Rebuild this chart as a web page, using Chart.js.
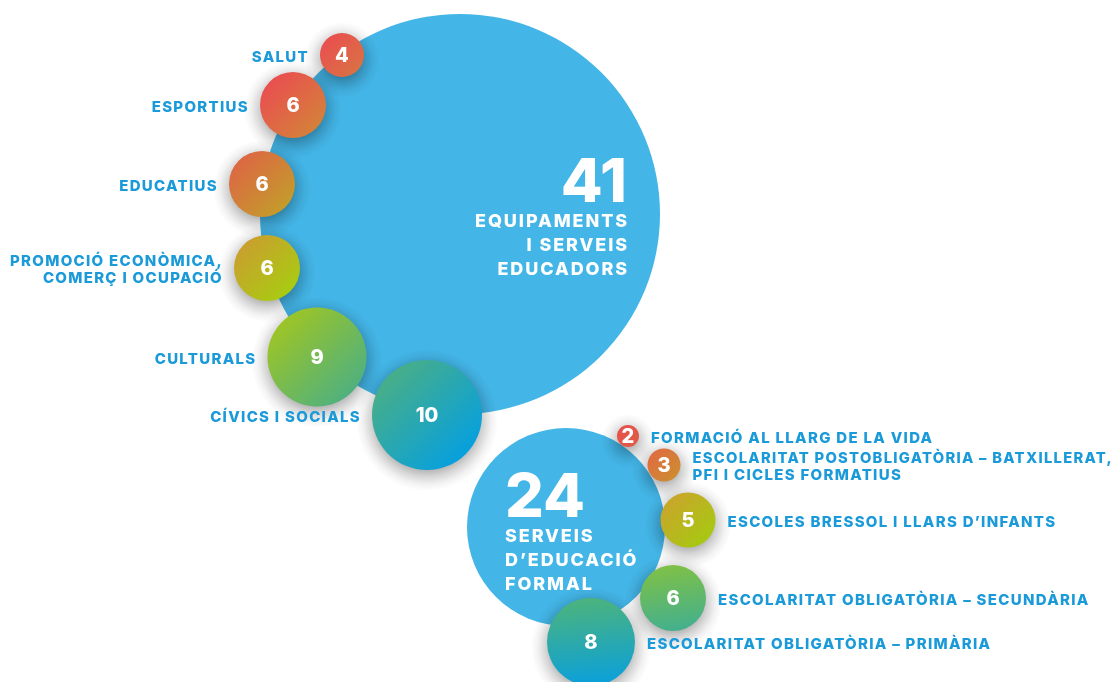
<!DOCTYPE html>
<html><head><meta charset="utf-8">
<script src="https://cdn.jsdelivr.net/npm/chart.js@4.4.1/dist/chart.umd.min.js"></script>
<style>html,body{margin:0;padding:0;background:#fff;overflow:hidden}#wrap{width:1114px;height:682px;position:relative}</style>
</head><body><div id="wrap"><canvas id="c"></canvas></div>
<script>
// ---- data ----
const groupTotals = [41, 24];
const groupTitles = [["EQUIPAMENTS", "I SERVEIS", "EDUCADORS"], ["SERVEIS", "D’EDUCACIÓ", "FORMAL"]];
const categories = [
  ["SALUT"], ["ESPORTIUS"], ["EDUCATIUS"], ["PROMOCIÓ ECONÒMICA,", "COMERÇ I OCUPACIÓ"], ["CULTURALS"], ["CÍVICS I SOCIALS"],
  ["FORMACIÓ AL LLARG DE LA VIDA"], ["ESCOLARITAT POSTOBLIGATÒRIA – BATXILLERAT,", "PFI I CICLES FORMATIUS"],
  ["ESCOLES BRESSOL I LLARS D’INFANTS"], ["ESCOLARITAT OBLIGATÒRIA – SECUNDÀRIA"], ["ESCOLARITAT OBLIGATÒRIA – PRIMÀRIA"]
];
const values = [4, 6, 6, 6, 9, 10, 2, 3, 5, 6, 8];
const groups = [0, 0, 0, 0, 0, 0, 1, 1, 1, 1, 1];

// ---- layout (positions in scale units, sizes, styles) ----
const bigX = [460, 566], bigY = [214, 527], bigR = [200, 99];
const bubX = [342, 293, 262, 267, 317, 427, 628, 664, 688, 673, 591];
const bubY = [55, 105, 184, 268, 357, 415, 436, 465, 520, 598, 642];
const R_PER_UNIT = 5.5;
const titleX = [627, 505], titleAlign = ['right', 'left'];
const totalBaseY = [202, 517], titleLineY = [220, 535];
const gradFrom = ['#e9504f', '#e94f50', '#dc6843', '#c9a02e', '#9cc427', '#47ae89', '#e9504c', '#df6d41', '#c9a62a', '#80c046', '#4cb37c'];
const gradTo   = ['#da7044', '#d5803a', '#c49b2b', '#a9cb12', '#50b17e', '#07a0dd', '#de5c46', '#cd8b31', '#a7c812', '#42b08e', '#0aa0dc'];
const gradDX   = [0.7, 0.7, 0.7, 0.7, 0.7, 0.7, 0.7, 0.7, 0.7, 0.15, 0.1];
const gradDY   = [0.7, 0.7, 0.7, 0.7, 0.7, 0.7, 0.7, 0.7, 0.7, 1, 1];
const BIG_COLOR = '#43b5e7', LABEL_COLOR = '#1a9ad8';
const FONT = 'Inter, "Open Sans", sans-serif';
const SHADOW_SPREAD = 16, SHADOW_DY = 5;

const bigData = bigX.map((x, i) => ({x, y: bigY[i], r: bigR[i]}));
const bubData = values.map((v, i) => ({x: bubX[i], y: bubY[i], r: v * R_PER_UNIT}));

function bubbleGradient(ctx) {
  const chart = ctx.chart, sx = chart.scales.x, sy = chart.scales.y;
  const i = ctx.dataIndex;
  if (!sx || !sy || i === undefined || !ctx.raw) return gradFrom[0];
  const px = sx.getPixelForValue(ctx.raw.x), py = sy.getPixelForValue(ctx.raw.y), r = ctx.raw.r;
  if (!isFinite(px) || !isFinite(py)) return gradFrom[i];
  const dx = r * gradDX[i], dy = r * gradDY[i];
  const g = chart.ctx.createLinearGradient(px - dx, py - dy, px + dx, py + dy);
  g.addColorStop(0, gradFrom[i]); g.addColorStop(1, gradTo[i]);
  return g;
}

// soft halo under each small bubble, placed from the bubble elements themselves
const shadowPlugin = {
  id: 'shadow',
  beforeDatasetDraw(chart, args) {
    if (args.meta !== chart.getDatasetMeta(1)) return;
    const c = chart.ctx;
    c.save();
    args.meta.data.forEach(el => {
      const r = el.options.radius, cx = el.x, cy = el.y + SHADOW_DY;
      const outer = r + SHADOW_SPREAD;
      const g = c.createRadialGradient(cx, cy, Math.max(0, r - 6), cx, cy, outer);
      g.addColorStop(0, 'rgba(0,0,0,0.30)');
      g.addColorStop(0.35, 'rgba(0,0,0,0.16)');
      g.addColorStop(0.7, 'rgba(0,0,0,0.05)');
      g.addColorStop(1, 'rgba(0,0,0,0)');
      c.fillStyle = g;
      c.beginPath(); c.arc(cx, cy, outer, 0, Math.PI * 2); c.fill();
    });
    c.restore();
  }
};

function spaced(c, px) { if ('letterSpacing' in c) c.letterSpacing = px + 'px'; }

const textPlugin = {
  id: 'texts',
  afterDatasetsDraw(chart) {
    const c = chart.ctx, sx = chart.scales.x, sy = chart.scales.y;
    const meta = chart.getDatasetMeta(1);
    c.save();
    meta.data.forEach((el, i) => {
      const r = el.options.radius;
      c.fillStyle = '#fff'; c.font = '800 20px ' + FONT; spaced(c, 0);
      c.textAlign = 'center'; c.textBaseline = 'alphabetic';
      c.fillText(String(values[i]), el.x, el.y + 7);
      const lines = categories[i];
      const left = groups[i] === 0;
      c.fillStyle = LABEL_COLOR; c.font = '800 15px ' + FONT; spaced(c, 1.3);
      c.textAlign = left ? 'right' : 'left';
      const lh = 17.5;
      const lx = left ? el.x - r - 11 : el.x + r + 12;
      const maxW = left ? lx - 2 : chart.width - lx - 1;
      const startY = el.y + 1 - (lines.length - 1) * lh / 2;
      lines.forEach((t, k) => c.fillText(t, lx, startY + k * lh + 5.5, maxW));
    });
    groupTotals.forEach((tot, g) => {
      const x = sx.getPixelForValue(titleX[g]);
      c.fillStyle = '#fff'; c.textAlign = titleAlign[g];
      c.font = '800 61px ' + FONT; spaced(c, 0);
      c.fillText(String(tot), x, sy.getPixelForValue(totalBaseY[g]));
      c.font = '800 18px ' + FONT; spaced(c, 1.9);
      groupTitles[g].forEach((t, k) => c.fillText(t, x + (titleAlign[g] === 'right' ? 2 : 0), sy.getPixelForValue(titleLineY[g]) + k * 24.3 + 6.5));
    });
    c.restore();
  }
};

new Chart(document.getElementById('c'), {
  type: 'bubble',
  data: {
    datasets: [
      {data: bigData, backgroundColor: BIG_COLOR, borderWidth: 0, order: 2, clip: false, hoverRadius: 0},
      {data: bubData, backgroundColor: bubbleGradient, borderWidth: 0, order: 1, clip: false, hoverRadius: 0}
    ]
  },
  options: {
    responsive: true, maintainAspectRatio: false, animation: false,
    events: [],
    layout: {padding: 0, autoPadding: false},
    plugins: {legend: {display: false}, tooltip: {enabled: false}},
    scales: {
      x: {type: 'linear', min: 0, max: 1114, display: false},
      y: {type: 'linear', min: 0, max: 682, reverse: true, display: false}
    }
  },
  plugins: [shadowPlugin, textPlugin]
});
</script></body></html>
